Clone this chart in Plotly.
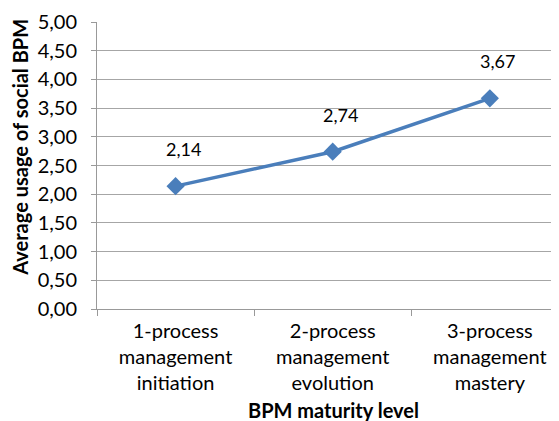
import plotly.graph_objects as go

categories = ["1-process<br>management<br>initiation",
              "2-process<br>management<br>evolution",
              "3-process<br>management<br>mastery"]
values = [2.14, 2.74, 3.67]
value_labels = ["2,14", "2,74", "3,67"]
y_ticks = [0, 0.5, 1.0, 1.5, 2.0, 2.5, 3.0, 3.5, 4.0, 4.5, 5.0]

FONT = "Lato"
line_color = "#4A7EBB"

fig = go.Figure()
fig.add_trace(go.Scatter(
    x=categories, y=values, mode="lines+markers",
    line=dict(color=line_color, width=3.5),
    marker=dict(symbol="diamond", size=14, color=line_color),
    hoverinfo="skip", showlegend=False,
))
for c, v, t in zip(categories, values, value_labels):
    fig.add_annotation(x=c, y=v, text=t, showarrow=False, yshift=37, xshift=8,
                       font=dict(family=FONT, size=18, color="#000000"))

fig.add_annotation(xref="paper", yref="paper", x=-0.167, y=0.565,
                   text="<b>Average usage of social BPM</b>", textangle=-90,
                   showarrow=False, xanchor="center", yanchor="middle",
                   font=dict(family=FONT, size=20, color="#000000"))
fig.add_annotation(xref="paper", yref="paper", x=0.511, y=-0.352,
                   text="<b>BPM maturity level</b>",
                   showarrow=False, xanchor="center", yanchor="middle",
                   font=dict(family=FONT, size=20, color="#000000"))

fig.update_layout(
    width=551, height=413,
    margin=dict(l=89, r=0, t=14, b=112),
    paper_bgcolor="white", plot_bgcolor="white",
    separators=",.",
    font=dict(family=FONT, size=20, color="#000000"),
    xaxis=dict(
        type="category", range=[-0.5, 2.44],
        tickson="boundaries", ticks="outside", ticklen=6, tickcolor="#999999",
        showline=True, linecolor="#999999", linewidth=1,
        showgrid=False, ticklabelstandoff=4,
        tickfont=dict(family=FONT, size=20, color="#000000"),
    ),
    yaxis=dict(
        range=[0, 5], tickvals=y_ticks, tickformat=".2f",
        ticks="outside", ticklen=5, tickcolor="#999999",
        showline=True, linecolor="#999999", linewidth=1,
        showgrid=True, gridcolor="#A6A6A6", gridwidth=1,
        zeroline=False, ticklabelstandoff=10,
        tickfont=dict(family=FONT, size=20, color="#000000"),
    ),
)

fig.write_html("out.html")
